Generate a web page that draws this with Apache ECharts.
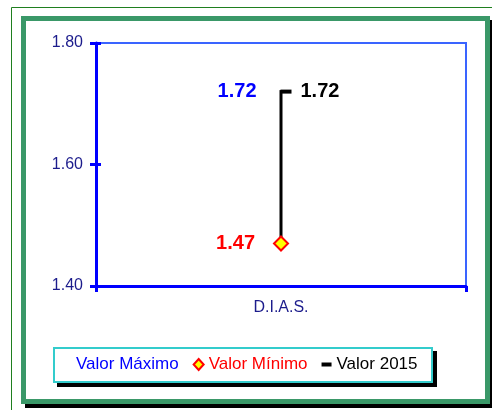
<!DOCTYPE html>
<html>
<head>
<meta charset="utf-8">
<script src="https://cdn.jsdelivr.net/npm/echarts@6/dist/echarts.min.js"></script>
<style>
  html, body { margin: 0; padding: 0; background: #fff; }
  #chart { width: 492px; height: 410px; }
</style>
</head>
<body>
<div id="chart"></div>
<script>
  // data
  var categories = ['D.I.A.S.'];
  var valorMaximo = [1.72];
  var valorMinimo = [1.47];
  var valor2015 = [1.72];
  var seriesNames = ['Valor Máximo', 'Valor Mínimo', 'Valor 2015'];
  var yMin = 1.40, yMax = 1.80, yStep = 0.20;

  var font = 'Arial, "Liberation Sans", sans-serif';
  var fmt = function (p) { return Number(p.value).toFixed(2); };

  var chart = echarts.init(document.getElementById('chart'));

  var hiLow = categories.map(function (c, i) {
    return [i, valorMinimo[i], valorMaximo[i]];
  });

  var option = {
    backgroundColor: '#fff',
    animation: false,
    //region frame + legend box
    graphic: [
      {
        type: 'rect', z: -10, silent: true,
        shape: { x: 11.5, y: 7.5, width: 600, height: 600 },
        style: { fill: 'none', stroke: '#1f7f1f', lineWidth: 1 }
      },
      {
        type: 'rect', z: -9, silent: true,
        shape: { x: 25, y: 20, width: 469, height: 388 },
        style: { fill: '#000' }
      },
      {
        type: 'rect', z: -8, silent: true,
        shape: { x: 23.5, y: 18.5, width: 464, height: 383 },
        style: { fill: '#fff', stroke: '#3a9868', lineWidth: 5 }
      },
      {
        type: 'rect', z: -7, silent: true,
        shape: { x: 57, y: 351, width: 380, height: 36 },
        style: { fill: '#000' }
      },
      {
        type: 'rect', z: -6, silent: true,
        shape: { x: 54, y: 348, width: 378, height: 34 },
        style: { fill: '#fff', stroke: '#33cccc', lineWidth: 2 }
      }
    ],
    //endregion
    grid: {
      left: 96, right: 26, top: 43, bottom: 124,
      show: true, borderColor: '#3a64ff', borderWidth: 2
    },
    //region legend
    legend: {
      left: 53, top: 347,
      padding: [9, 13, 9, 8],
      itemGap: 14,
      itemWidth: 10, itemHeight: 11,
      textStyle: { fontFamily: font, fontSize: 17 },
      data: [
        { name: seriesNames[0], icon: 'rect', itemStyle: { opacity: 0 }, textStyle: { color: '#0000ff' } },
        { name: seriesNames[1], icon: 'diamond', itemStyle: { color: '#ffff00', borderColor: '#ff0000', borderWidth: 2 }, textStyle: { color: '#ff0000' } },
        { name: seriesNames[2], icon: 'path://M0,0h10v4h-10z', itemStyle: { color: '#000' }, textStyle: { color: '#000' } }
      ]
    },
    //endregion
    xAxis: {
      type: 'category',
      data: categories,
      boundaryGap: true,
      axisLine: { lineStyle: { color: '#0000ff', width: 3 } },
      axisTick: { show: true, length: 6, lineStyle: { color: '#0000ff', width: 3 } },
      axisLabel: { color: '#1c1c8c', fontFamily: font, fontSize: 16, margin: 14 }
    },
    yAxis: [
      {
        type: 'value',
        min: yMin, max: yMax, interval: yStep,
        splitLine: { show: false },
        axisLine: { show: true, lineStyle: { color: '#0000ff', width: 3 } },
        axisTick: { show: true, length: 6, lineStyle: { color: '#0000ff', width: 3 } },
        axisLabel: {
          color: '#1c1c8c', fontFamily: font, fontSize: 16, margin: 13,
          formatter: function (v) { return v.toFixed(2); }
        }
      },
      {
        type: 'value', position: 'left',
        min: yMin, max: yMax, interval: yStep,
        splitLine: { show: false },
        axisLine: { show: false },
        axisTick: { show: true, inside: true, length: 5, lineStyle: { color: '#0000ff', width: 3 } },
        axisLabel: { show: false }
      }
    ],
    //region series
    series: [
      {
        name: 'hilo',
        type: 'custom',
        z: 2,
        data: hiLow,
        encode: { x: 0, y: [1, 2] },
        renderItem: function (params, api) {
          var p1 = api.coord([api.value(0), api.value(1)]);
          var p2 = api.coord([api.value(0), api.value(2)]);
          return {
            type: 'line',
            shape: { x1: p1[0], y1: p1[1], x2: p2[0], y2: p2[1] - 1.5 },
            style: { stroke: '#000', lineWidth: 3 }
          };
        }
      },
      {
        name: seriesNames[0],
        type: 'scatter',
        z: 3,
        data: valorMaximo,
        symbol: 'circle', symbolSize: 1,
        itemStyle: { color: 'rgba(0,0,0,0)', opacity: 1 },
        label: {
          show: true, position: 'left', distance: 24,
          formatter: fmt,
          color: '#0000ff', fontFamily: font, fontSize: 20, fontWeight: 'bold'
        }
      },
      {
        name: seriesNames[1],
        type: 'scatter',
        z: 4,
        data: valorMinimo,
        symbol: 'diamond', symbolSize: 14,
        itemStyle: { color: '#ffff00', borderColor: '#ff0000', borderWidth: 2, opacity: 1 },
        label: {
          show: true, position: 'left', distance: 18,
          formatter: fmt,
          color: '#ff0000', fontFamily: font, fontSize: 20, fontWeight: 'bold'
        }
      },
      {
        name: seriesNames[2],
        type: 'scatter',
        z: 4,
        data: valor2015,
        symbol: 'rect', symbolSize: [11, 4], symbolOffset: [5, 0],
        itemStyle: { color: '#000', opacity: 1 },
        label: {
          show: true, position: 'right', distance: 9,
          formatter: fmt,
          color: '#000', fontFamily: font, fontSize: 20, fontWeight: 'bold'
        }
      }
    ]
    //endregion
  };

  chart.setOption(option);
</script>
</body>
</html>
